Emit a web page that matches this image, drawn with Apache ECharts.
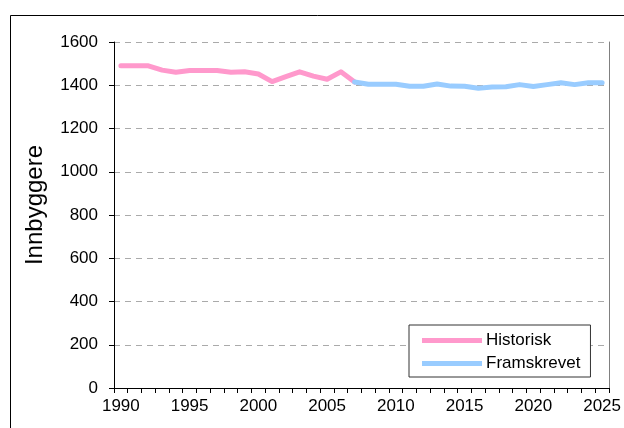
<!DOCTYPE html>
<html>
<head>
<meta charset="utf-8">
<script src="https://cdn.jsdelivr.net/npm/echarts@6/dist/echarts.min.js"></script>
<style>
html,body{margin:0;padding:0;background:#fff;}
#c{width:624px;height:428px;}
</style>
</head>
<body>
<div id="c"></div>
<script>
const years = [];
for (let y = 1990; y <= 2025; y++) years.push(String(y));

const historisk = [1490,1490,1490,1470,1460,1468,1468,1468,1460,1462,1452,1417,1440,1462,1442,1428,1462,1415,
  null,null,null,null,null,null,null,null,null,null,null,null,null,null,null,null,null,null];
const framskrevet = [null,null,null,null,null,null,null,null,null,null,null,null,null,null,null,null,null,1415,
  1405,1405,1405,1395,1395,1406,1396,1395,1386,1392,1393,1403,1394,1403,1412,1403,1412,1412];

const yTicks = { min: 0, max: 1600, interval: 200 };
const yTitle = 'Innbyggere';
const names = ['Historisk', 'Framskrevet'];

const font = '"Liberation Sans", Arial, Helvetica, sans-serif';
const chart = echarts.init(document.getElementById('c'), null, { renderer: 'canvas' });
chart.setOption({
  animation: false,
  backgroundColor: '#fff',
  grid: { left: 114, right: 13, top: 42, bottom: 40, containLabel: false },
  graphic: [{
    type: 'rect', left: 8, top: 13, silent: true, z: -1,
    shape: { width: 800, height: 600 },
    style: { fill: 'none', stroke: '#000', lineWidth: 1 }
  }, {
    type: 'text', x: 35, y: 205, rotation: Math.PI / 2, silent: true,
    style: { text: yTitle, fontFamily: font, fontSize: 24, fill: '#000', align: 'center', verticalAlign: 'middle' }
  }],
  legend: {
    orient: 'vertical', left: 409, top: 325,
    data: names,
    icon: 'rect', itemWidth: 60, itemHeight: 5, itemGap: 6,
    padding: [7, 10, 5, 13],
    backgroundColor: '#fff',
    borderColor: '#333', borderWidth: 1,
    textStyle: { fontFamily: font, fontSize: 17, color: '#000', padding: [0, 0, 0, -1] }
  },
  xAxis: {
    type: 'category', data: years, boundaryGap: true,
    axisLine: { lineStyle: { color: '#000', width: 1 } },
    axisTick: { show: true, interval: 0, length: 5, lineStyle: { color: '#000' } },
    axisLabel: { interval: 4, fontFamily: font, fontSize: 17, color: '#000', margin: 10 },
    splitLine: { show: false }
  },
  yAxis: [{
    type: 'value', min: yTicks.min, max: yTicks.max, interval: yTicks.interval,
    axisLine: { show: true, lineStyle: { color: '#000', width: 1 } },
    axisTick: { show: true, length: 5, lineStyle: { color: '#000' } },
    axisLabel: { fontFamily: font, fontSize: 17, color: '#000', margin: 16, formatter: v => String(v) },
    splitLine: { show: true, lineStyle: { color: '#aaa', type: [6, 5], width: 1 } }
  }, {
    type: 'value', min: yTicks.min, max: yTicks.max, interval: yTicks.interval, position: 'right',
    axisLine: { show: true, lineStyle: { color: '#808080', width: 1 } },
    axisTick: { show: false }, axisLabel: { show: false }, splitLine: { show: false }
  }],
  series: [{
    name: names[0], type: 'line', data: historisk, showSymbol: false, symbol: 'none',
    lineStyle: { color: '#FF99CC', width: 5, cap: 'round', join: 'round' },
    itemStyle: { color: '#FF99CC' }, z: 3
  }, {
    name: names[1], type: 'line', data: framskrevet, showSymbol: false, symbol: 'none',
    lineStyle: { color: '#99CCFF', width: 5, cap: 'round', join: 'round' },
    itemStyle: { color: '#99CCFF' }, z: 4
  }]
});
</script>
</body>
</html>
